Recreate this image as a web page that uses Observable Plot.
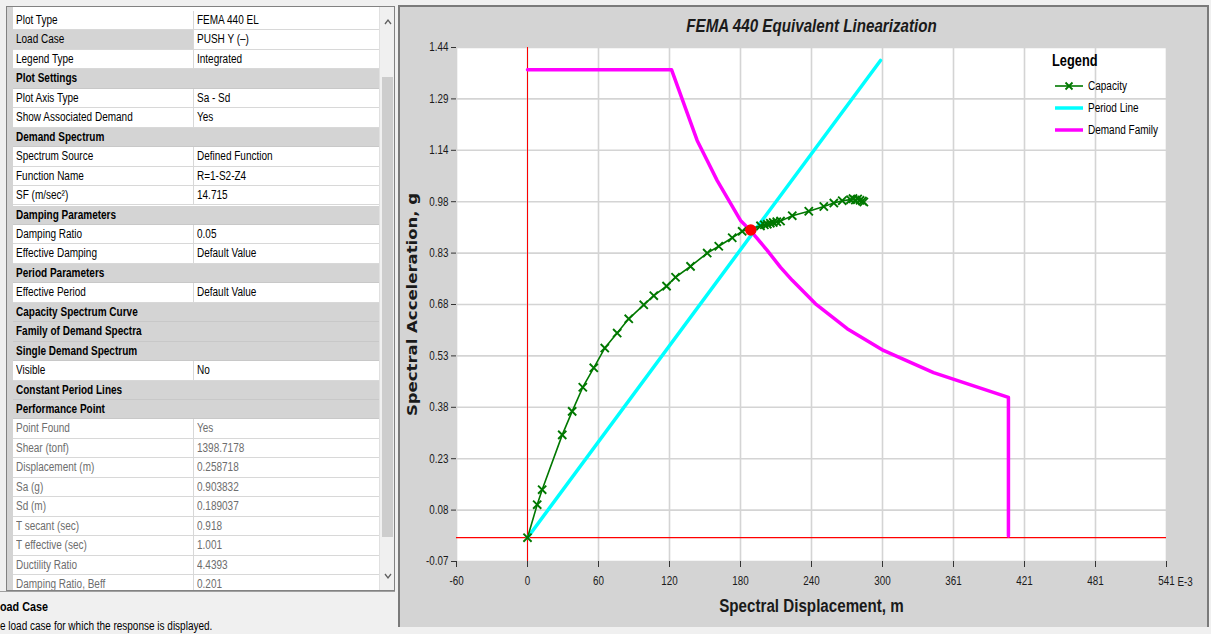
<!DOCTYPE html>
<html>
<head>
<meta charset="utf-8">
<script src="https://cdn.jsdelivr.net/npm/d3@7"></script>
<script src="https://cdn.jsdelivr.net/npm/@observablehq/plot@0.6"></script>
<style>
  html, body { margin: 0; padding: 0; }
  body { width: 1211px; height: 634px; overflow: hidden; position: relative; background: #f0f0f0;
         font-family: "Liberation Sans", Arial, sans-serif; color: #000; }
  .abs { position: absolute; box-sizing: border-box; }
  .sq { display: inline-block; transform: scaleX(0.8); transform-origin: 0 50%; white-space: nowrap; }
  #leftbox { left: 6px; top: 6px; width: 389px; height: 585px; background: #fff; border: 1px solid #828282; overflow: hidden; }
  .cell { position: absolute; box-sizing: border-box; font-size: 12.5px; line-height: 19px; white-space: nowrap; overflow: hidden; padding-left: 3px; }
  .cat { font-weight: bold; background: #d4d4d4; }
  .ro { color: #6d6d6d; }
  #desc { left: 0; top: 591px; width: 395px; height: 43px; background: #f0f0f0; border-top: 1px solid #a0a0a0; }
  #chartpanel { left: 398px; top: 5px; width: 811px; height: 622px; background: #d4d4d4; border-top: 2px solid #7a7a7a; border-left: 2px solid #7a7a7a; border-right: 2px solid #7a7a7a; }
  #plot { position: absolute; left: 399px; top: 8px; }
  #legend { left: 1046px; top: 50px; width: 120px; height: 95px; }
</style>
</head>
<body>
<div id="leftbox" class="abs"></div>
<div id="desc" class="abs">
  <div class="abs" style="left:0px; top:7px; font-weight:bold; font-size:13.5px;"><span class="sq">oad Case</span></div>
  <div class="abs" style="left:0px; top:27px; font-size:12.5px;"><span class="sq">e load case for which the response is displayed.</span></div>
</div>
<div id="chartpanel" class="abs"></div>
<div id="plot"></div>
<div id="legend" class="abs"></div>

<script>
// ---------- Property grid (left panel) ----------
const propNames = ["Plot Type","Load Case","Legend Type","Plot Settings","Plot Axis Type","Show Associated Demand",
  "Demand Spectrum","Spectrum Source","Function Name","SF (m/sec²)","Damping Parameters","Damping Ratio",
  "Effective Damping","Period Parameters","Effective Period","Capacity Spectrum Curve","Family of Demand Spectra",
  "Single Demand Spectrum","Visible","Constant Period Lines","Performance Point","Point Found","Shear (tonf)",
  "Displacement (m)","Sa (g)","Sd (m)","T secant (sec)","T effective (sec)","Ductility Ratio","Damping Ratio, Beff"];
const propValues = ["FEMA 440 EL","PUSH Y (–)","Integrated","","Sa - Sd","Yes","","Defined Function","R=1-S2-Z4","14.715",
  "","0.05","Default Value","","Default Value","","","","No","","","Yes","1398.7178","0.258718","0.903832","0.189037",
  "0.918","1.001","4.4393","0.201"];
const propKinds = ["p","sel","p","c","p","p","c","p","p","p","c","p","p","c","p","c","c","c","p","c","c",
  "ro","ro","ro","ro","ro","ro","ro","ro","ro"];

const lb = document.getElementById("leftbox");
const rowH = 19.45, row0 = 4, gx0 = 6, gxSplit = 187, gxEnd = 372;
const gut = document.createElement("div");
gut.className = "abs"; gut.style.cssText = "left:0;top:0;width:6px;height:585px;background:#d4d4d4";
lb.appendChild(gut);
function mkCell(cls, css, text) {
  const d = document.createElement("div");
  d.className = cls;
  d.style.cssText += css;
  const s = document.createElement("span");
  s.className = "sq";
  s.textContent = text;
  d.appendChild(s);
  lb.appendChild(d);
}
propNames.forEach((name, i) => {
  const top = row0 + i * rowH;
  const kind = propKinds[i];
  if (kind === "c") {
    mkCell("cell cat", `left:${gx0}px;top:${top}px;width:${gxEnd - gx0}px;height:${rowH}px;border-bottom:1px solid #c8c8c8;`, name);
  } else {
    const ro = kind === "ro" ? " ro" : "";
    mkCell("cell" + ro, `left:${gx0}px;top:${top}px;width:${gxSplit - gx0}px;height:${rowH}px;border-bottom:1px solid #d8d8d8;border-right:1px solid #d8d8d8;background:${kind === "sel" ? "#d4d4d4" : "#fff"};`, name);
    mkCell("cell" + ro, `left:${gxSplit}px;top:${top}px;width:${gxEnd - gxSplit}px;height:${rowH}px;border-bottom:1px solid #d8d8d8;background:#fff;`, propValues[i]);
  }
});
const sb = document.createElement("div");
sb.className = "abs"; sb.style.cssText = `left:${gxEnd}px;top:0;width:${389 - gxEnd}px;height:585px;background:#f0f0f0;border-left:1px solid #e0e0e0`;
sb.innerHTML = `<svg width="16" height="585" style="position:absolute;left:0;top:0">
  <rect x="2" y="70" width="11" height="460" fill="#cdcdcd"/>
  <polyline points="5,17 8,13 11,17" fill="none" stroke="#606060" stroke-width="1.3"/>
  <polyline points="5,567 8,571 11,567" fill="none" stroke="#606060" stroke-width="1.3"/>
</svg>`;
lb.appendChild(sb);

// ---------- Chart data (Sd in E-3 m, Sa in g) ----------
const xTickLabels = ["-60","0","60","120","180","240","300","361","421","481","541"];
const xTickStep = 60.1;
const yTickLabels = ["-0.07","0.08","0.23","0.38","0.53","0.68","0.83","0.98","1.14","1.29","1.44"];
const yMin = -0.07, yMax = 1.44;

const capacitySd = [0, 8.2, 12.4, 29.4, 37.8, 46.8, 56.1, 65.4, 75.9, 85.7, 98.4, 106.9, 117.7, 125.3, 138.0,
  152.1, 161.9, 173.3, 181.7, 197.2, 200.5, 203.0, 205.5, 208.0, 211.0, 214.2, 224.1, 238.1, 250.8, 259.3, 266.4,
  273.4, 275.5, 277.5, 279.5, 281.5, 283.5, 284.7];
const capacitySa = [0, 0.097, 0.141, 0.302, 0.371, 0.442, 0.499, 0.557, 0.601, 0.643, 0.684, 0.711, 0.739, 0.765, 0.797,
  0.836, 0.856, 0.881, 0.900, 0.916, 0.919, 0.921, 0.924, 0.926, 0.928, 0.930, 0.946, 0.959, 0.973, 0.983, 0.990,
  0.993, 0.996, 0.992, 0.995, 0.991, 0.989, 0.986];

const periodSd = [0, 298.8];
const periodSa = [0, 1.402];

const demandSd = [0, 121.9, 143.6, 152.1, 160.6, 180.3, 188.8, 202.9, 214.2, 224.1, 243.8, 270.6, 301.3, 343.7, 407.1, 407.1];
const demandSa = [1.375, 1.375, 1.167, 1.108, 1.049, 0.932, 0.902, 0.844, 0.794, 0.756, 0.687, 0.614, 0.550, 0.485, 0.412, 0.005];

const perfSd = [189.037];
const perfSa = [0.903832];

const title = "FEMA 440 Equivalent Linearization";
const xLabel = "Spectral Displacement, m";
const yLabel = "Spectral Acceleration, g";
const xUnit = "E-3";

const capacity = capacitySd.map((d, i) => ({sd: d, sa: capacitySa[i]}));
const period = periodSd.map((d, i) => ({sd: d, sa: periodSa[i]}));
const demand = demandSd.map((d, i) => ({sd: d, sa: demandSa[i]}));
const perf = perfSd.map((d, i) => ({sd: d, sa: perfSa[i]}));

const xTicks = xTickLabels.map((_, i) => (i - 1) * xTickStep);
const yStep = (yMax - yMin) / (yTickLabels.length - 1);
const yTicks = yTickLabels.map((_, i) => yMin + i * yStep);
const xFmt = d => xTickLabels[Math.round(d / xTickStep) + 1];
const yFmt = d => yTickLabels[Math.round((d - yMin) / yStep)];

const gridStyle = {stroke: "#d4d4d4", strokeOpacity: 1, strokeWidth: 1.6};

const chart = Plot.plot({
  width: 808, height: 618,
  marginLeft: 57, marginRight: 41, marginTop: 39, marginBottom: 65,
  x: {domain: [xTicks[0], xTicks[xTicks.length - 1]]},
  y: {domain: [yMin, yMax]},
  style: {background: "transparent", fontFamily: '"Liberation Sans", Arial, sans-serif', fontSize: "12px", color: "#1a1a1a", overflow: "visible"},
  marks: [
    Plot.frame({fill: "white", stroke: null}),
    Plot.gridX(xTicks, gridStyle),
    Plot.gridY(yTicks, gridStyle),
    Plot.ruleX([0], {stroke: "#ff0000", strokeWidth: 1}),
    Plot.ruleY([0], {stroke: "#ff0000", strokeWidth: 1.2}),
    Plot.line(demand, {x: "sd", y: "sa", stroke: "#ff00ff", strokeWidth: 3.5}),
    Plot.line(period, {x: "sd", y: "sa", stroke: "#00ffff", strokeWidth: 3.5}),
    Plot.line(capacity, {x: "sd", y: "sa", stroke: "#007800", strokeWidth: 1.6}),
    Plot.dot(capacity, {x: "sd", y: "sa", symbol: "times", r: 3.8, stroke: "#007800", strokeWidth: 1.9}),
    Plot.dot(perf, {x: "sd", y: "sa", r: 5, fill: "#ff0000", stroke: "#ff0000"}),
    Plot.axisX(xTicks, {tickFormat: xFmt, tickSize: 6, tickPadding: 9, label: null, stroke: "#333"}),
    Plot.axisY(yTicks, {tickFormat: yFmt, tickSize: 5, tickPadding: 3, label: null, stroke: "#333"}),
    Plot.text([xUnit], {frameAnchor: "bottom-right", dx: 11, dy: 21, textAnchor: "start", lineAnchor: "middle", fontSize: 12}),
    Plot.text([title], {frameAnchor: "top", dy: -21, textAnchor: "middle", lineAnchor: "middle",
      fontWeight: "bold", fontStyle: "italic", fontSize: 18.5}),
    Plot.text([xLabel], {frameAnchor: "bottom", dy: 45, textAnchor: "middle", lineAnchor: "middle",
      fontWeight: "bold", fontSize: 18.5}),
    Plot.text([yLabel], {frameAnchor: "left", dx: -44, rotate: -90, textAnchor: "middle", lineAnchor: "middle",
      fontWeight: "bold", fontSize: 16.5, fontFamily: '"DejaVu Sans", Verdana, sans-serif'})
  ]
});
document.getElementById("plot").appendChild(chart);

// Horizontally condense the chart's texts, as in the reference screenshot
chart.querySelectorAll("text").forEach(t => {
  const anchor = getComputedStyle(t).textAnchor;
  const g = document.createElementNS("http://www.w3.org/2000/svg", "g");
  t.parentNode.insertBefore(g, t);
  g.appendChild(t);
  g.style.transformBox = "fill-box";
  g.style.transformOrigin = anchor === "start" ? "0% 50%" : anchor === "end" ? "100% 50%" : "50% 50%";
  g.style.transform = "scaleX(0.82)";
});

// ---------- Legend ----------
const legendNames = ["Capacity", "Period Line", "Demand Family"];
const legendColors = ["#007800", "#00ffff", "#ff00ff"];
const legendWidths = [1.6, 3.5, 3.5];
const lg = document.getElementById("legend");
let html = `<div class="abs" style="left:6px;top:2px;font-weight:bold;font-size:16px;line-height:18px;"><span class="sq">Legend</span></div>`;
legendNames.forEach((n, i) => {
  const cy = 36 + i * 22;
  html += `<svg class="abs" style="left:8px;top:${cy - 6}px" width="30" height="12">
    <line x1="1" y1="6" x2="29" y2="6" stroke="${legendColors[i]}" stroke-width="${legendWidths[i]}"/>
    ${i === 0 ? `<path d="M11.5,2.5 L18.5,9.5 M18.5,2.5 L11.5,9.5" stroke="${legendColors[i]}" stroke-width="1.8"/>` : ""}
  </svg>
  <div class="abs" style="left:42px;top:${cy - 8}px;font-size:12.5px;line-height:16px;white-space:nowrap;"><span class="sq">${n}</span></div>`;
});
lg.innerHTML = html;
</script>
</body>
</html>
